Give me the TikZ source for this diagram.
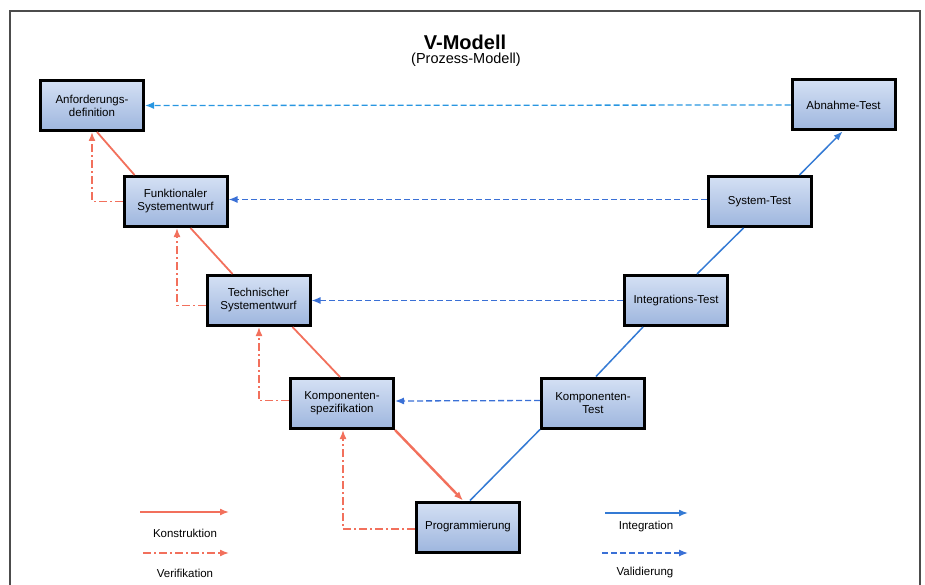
\documentclass[tikz,border=0pt]{standalone}
\usepackage{fontspec}
\setmainfont{Liberation Sans}
\usetikzlibrary{arrows.meta}

\definecolor{boxtop}{RGB}{212,224,244}
\definecolor{boxbot}{RGB}{158,182,222}
\definecolor{konred}{RGB}{242,112,92}
\definecolor{intblue}{RGB}{52,122,212}
\definecolor{valblue}{RGB}{58,112,214}
\definecolor{valcyan}{RGB}{40,150,225}

\begin{document}
\begin{tikzpicture}[x=1pt, y=-1pt,
    phase/.style={draw=black, line width=3pt, top color=boxtop, bottom color=boxbot,
      minimum width=103pt, minimum height=50pt, align=center,
      font=\fontsize{11.5}{13}\selectfont},
    legtext/.style={font=\fontsize{11.5}{13}\selectfont},
    kons/.style={konred, line width=1.8pt},
    verif/.style={konred, line width=1.6pt, dash pattern=on 8pt off 3pt on 2pt off 3pt},
    integ/.style={intblue, line width=1.5pt},
    valid/.style={valblue, line width=1.3pt, dash pattern=on 6pt off 3pt},
    tip/.style={-{Latex[length=9pt,width=7pt]}}]
    \useasboundingbox (0,0) rectangle (925,585);

    % Rahmen
    \draw[gray!60!black, line width=1.2pt] (10,585) -- (10,11) -- (920,11) -- (920,585);

    % Titel
    \node[font=\fontsize{20}{22}\selectfont\bfseries] (titel) at (465,42) {V-Modell};
    \node[font=\fontsize{14.5}{16}\selectfont] (untertitel) at (466,60) {(Prozess-Modell)};

    % linker Ast
    \node[phase] (anf) at (92,105.5) {Anforderungs-\\definition};
    \node[phase] (funk) at (175.5,201.5) {Funktionaler\\Systementwurf};
    \node[phase] (tech) at (258.5,300.5) {Technischer\\Systementwurf};
    \node[phase] (kspez) at (342,403.5) {Komponenten-\\spezifikation};
    \node[phase] (prog) at (468,527) {Programmierung};

    % rechter Ast
    \node[phase] (ktest) at (593,403) {Komponenten-\\Test};
    \node[phase] (itest) at (676,300.5) {Integrations-Test};
    \node[phase] (stest) at (759.5,201.5) {System-Test};
    \node[phase] (atest) at (843.5,105) {Abnahme-Test};

    % Konstruktion
    \draw[kons] ([xshift=5pt]anf.south) -- ([xshift=12pt]funk.north west);
    \draw[kons] ([xshift=15pt]funk.south) -- ([xshift=-26pt]tech.north);
    \draw[kons] ([xshift=34pt]tech.south) -- ([xshift=-2pt]kspez.north);
    \draw[kons, line width=2.4pt, tip] (kspez.south east) -- ([xshift=-5pt]prog.north);

    % Verifikation
    \draw[verif, tip] (funk.west) -| (anf.south);
    \draw[verif, tip] ([yshift=-5pt]tech.west) -| ([xshift=1.5pt]funk.south);
    \draw[verif, tip] ([yshift=3pt]kspez.west) -| ([xshift=0.5pt]tech.south);
    \draw[verif, tip] ([yshift=-2pt]prog.west) -| ([xshift=1pt]kspez.south);

    % Integration
    \draw[integ] ([xshift=2pt]prog.north) -- (ktest.south west);
    \draw[integ] ([xshift=3pt]ktest.north) -- ([xshift=-33pt]itest.south);
    \draw[integ] ([xshift=21pt]itest.north) -- ([xshift=-16pt]stest.south);
    \draw[integ, tip] ([xshift=40pt]stest.north) -- ([xshift=-1pt]atest.south);

    % Validierung
    \draw[valid, valcyan, tip] (atest.west) -- (anf.east);
    \draw[valid, tip] ([yshift=2pt]stest.west) -- ([yshift=2pt]funk.east);
    \draw[valid, tip] (itest.west) -- (tech.east);
    \draw[valid, tip] ([yshift=2.5pt]ktest.west) -- ([yshift=2.5pt]kspez.east);

    % Legende
    \coordinate (konsA) at (140,512);
    \coordinate (konsB) at (229,512);
    \coordinate (verA) at (143,553);
    \coordinate (verB) at (229,553);
    \coordinate (intA) at (605,513);
    \coordinate (intB) at (688,513);
    \coordinate (valA) at (602,553);
    \coordinate (valB) at (688,553);
    \draw[kons, line width=1.5pt, tip] (konsA) -- (konsB);
    \draw[verif, tip] (verA) -- (verB);
    \draw[integ, tip] (intA) -- (intB);
    \draw[valid, tip] (valA) -- (valB);
    \node[legtext] (konslabel) at (185,533) {Konstruktion};
    \node[legtext] (verlabel) at (185,573) {Verifikation};
    \node[legtext] (intlabel) at (646,527) {Integration};
    \node[legtext] (vallabel) at (645,573) {Validierung};
\end{tikzpicture}
\end{document}
